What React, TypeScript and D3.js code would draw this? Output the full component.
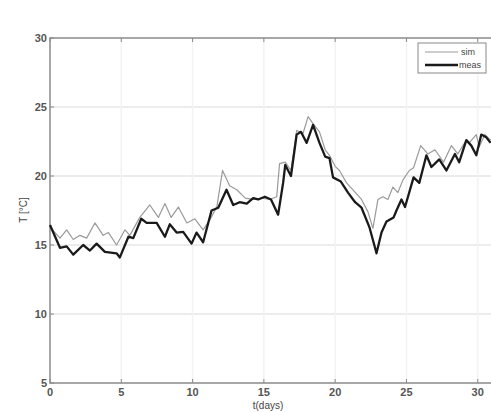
import React, { useEffect, useRef } from 'react';
import * as d3 from 'd3';

// simulated temperature (thin gray)
const simDays = [0, 0.7, 1.17, 1.63, 2.1, 2.57, 3.15, 3.73, 4.1, 4.67, 5.26, 5.6, 6.3, 7.0, 7.6, 8.06, 8.5, 9.0, 9.6, 10.16, 10.74, 11.2, 11.7, 12.1, 12.6, 13.1, 13.7, 14.25, 14.9, 15.4, 15.9, 16.1, 16.5, 16.9, 17.3, 17.75, 18.1, 18.45, 18.9, 19.3, 19.6, 20.0, 20.3, 20.8, 21.25, 21.85, 22.3, 22.65, 23.0, 23.35, 23.7, 24.05, 24.4, 24.75, 25.2, 25.5, 26.0, 26.5, 27.0, 27.6, 28.15, 28.6, 29.2, 29.4, 29.9, 30.1, 30.5, 30.9];
const simTemp = [16.3, 15.5, 16.1, 15.4, 15.7, 15.5, 16.6, 15.7, 15.9, 15.0, 16.1, 15.7, 17.0, 17.9, 17.0, 18.0, 17.0, 17.75, 16.6, 16.9, 16.1, 16.8, 17.75, 20.4, 19.3, 19.0, 18.4, 18.3, 18.4, 18.3, 18.5, 20.9, 21.0, 20.4, 23.3, 23.1, 24.3, 23.8, 23.2, 21.9, 21.5, 20.7, 20.4, 19.5, 19.0, 18.3, 17.4, 16.2, 18.3, 18.5, 18.3, 19.2, 18.8, 19.7, 20.4, 20.6, 22.2, 21.6, 21.9, 21.0, 22.2, 21.6, 22.6, 22.4, 23.0, 22.1, 23.0, 22.6];

// measured temperature (thick black)
const measDays = [0, 0.7, 1.17, 1.63, 2.33, 2.8, 3.27, 3.85, 4.67, 4.9, 5.5, 5.84, 6.4, 6.78, 7.48, 8.06, 8.4, 8.88, 9.34, 9.93, 10.28, 10.74, 11.33, 11.8, 12.38, 12.85, 13.3, 13.8, 14.25, 14.6, 15.07, 15.5, 16.0, 16.35, 16.5, 16.9, 17.3, 17.6, 18.0, 18.45, 18.9, 19.3, 19.6, 19.85, 20.4, 20.9, 21.4, 21.85, 22.4, 22.9, 23.25, 23.6, 24.1, 24.3, 24.65, 24.9, 25.5, 25.9, 26.4, 26.75, 27.3, 27.8, 28.4, 28.7, 29.2, 29.55, 29.9, 30.25, 30.6, 30.9];
const measTemp = [16.45, 14.8, 14.9, 14.3, 15.0, 14.6, 15.1, 14.5, 14.4, 14.1, 15.6, 15.5, 16.9, 16.6, 16.6, 15.6, 16.5, 15.9, 15.95, 15.1, 15.9, 15.2, 17.5, 17.7, 19.0, 17.9, 18.1, 18.0, 18.4, 18.3, 18.5, 18.3, 17.2, 19.5, 20.8, 20.0, 23.0, 23.2, 22.4, 23.7, 22.4, 21.4, 21.3, 19.9, 19.6, 18.8, 18.1, 17.7, 16.3, 14.4, 15.9, 16.7, 17.0, 17.5, 18.3, 17.75, 19.9, 19.5, 21.5, 20.65, 21.2, 20.4, 21.6, 21.0, 22.6, 22.2, 21.5, 23.0, 22.8, 22.4];

const xTicks = [0, 5, 10, 15, 20, 25, 30];
const yTicks = [5, 10, 15, 20, 25, 30];

const Chart = () => {
  const svgRef = useRef(null);

  useEffect(() => {
    const width = 491;
    const height = 412;
    const svg = d3.select(svgRef.current);
    svg.selectAll('*').remove();
    svg.attr('width', width).attr('height', height);

    const x = d3.scaleLinear().domain([0, 31]).range([50, 492]);
    const y = d3.scaleLinear().domain([5, 30]).range([383, 38]);
    const font = 'Liberation Sans, Arial, sans-serif';

    svg.append('rect').attr('width', width).attr('height', height).attr('fill', '#fff');

    // faint grid
    svg.selectAll('.hgrid').data(yTicks.slice(1, -1)).join('line')
      .attr('x1', x(0)).attr('x2', x(31))
      .attr('y1', (d) => y(d)).attr('y2', (d) => y(d))
      .attr('stroke', '#e6e6e6').attr('stroke-width', 1.5);
    svg.selectAll('.vgrid').data(xTicks.slice(1)).join('line')
      .attr('x1', (d) => x(d)).attr('x2', (d) => x(d))
      .attr('y1', y(30)).attr('y2', y(5))
      .attr('stroke', '#f3f3f3').attr('stroke-width', 1.5);

    // frame
    svg.append('rect')
      .attr('x', x(0)).attr('y', y(30))
      .attr('width', x(31) - x(0)).attr('height', y(5) - y(30))
      .attr('fill', 'none').attr('stroke', '#8a8a8a').attr('stroke-width', 1.5);

    // ticks inward
    xTicks.forEach((t) => {
      svg.append('line').attr('x1', x(t)).attr('x2', x(t)).attr('y1', y(5)).attr('y2', y(5) - 4)
        .attr('stroke', '#8a8a8a');
      svg.append('line').attr('x1', x(t)).attr('x2', x(t)).attr('y1', y(30)).attr('y2', y(30) + 4)
        .attr('stroke', '#8a8a8a');
      svg.append('text').attr('x', x(t)).attr('y', y(5) + 13)
        .attr('text-anchor', 'middle').attr('font-family', font).attr('font-size', 11)
        .attr('font-weight', 'bold').attr('fill', '#555').text(t);
    });
    yTicks.forEach((t) => {
      svg.append('line').attr('x1', x(0)).attr('x2', x(0) + 4).attr('y1', y(t)).attr('y2', y(t))
        .attr('stroke', '#8a8a8a');
      svg.append('text').attr('x', x(0) - 3).attr('y', y(t) + 4)
        .attr('text-anchor', 'end').attr('font-family', font).attr('font-size', 11)
        .attr('font-weight', 'bold').attr('fill', '#555').text(t);
    });

    // axis labels
    svg.append('text').attr('x', 268).attr('y', 409).attr('text-anchor', 'middle')
      .attr('font-family', font).attr('font-size', 10).attr('fill', '#444').text('t(days)');
    svg.append('text').attr('transform', 'translate(27,210) rotate(-90)').attr('text-anchor', 'middle')
      .attr('font-family', font).attr('font-size', 10).attr('fill', '#444').text('T [°C]');

    const line = d3.line<number>()
      .x((d) => x(d[0]))
      .y((d) => y(d[1]));

    const simPts = simDays.map((d, i) => [d, simTemp[i]]);
    const measPts = measDays.map((d, i) => [d, measTemp[i]]);

    svg.append('path').attr('d', line(simPts)).attr('fill', 'none')
      .attr('stroke', '#9a9a9a').attr('stroke-width', 1.2).attr('stroke-linejoin', 'round');
    svg.append('path').attr('d', line(measPts)).attr('fill', 'none')
      .attr('stroke', '#1a1a1a').attr('stroke-width', 2.3).attr('stroke-linejoin', 'round');

    // legend
    const lg = svg.append('g');
    lg.append('rect').attr('x', 418).attr('y', 43).attr('width', 68).attr('height', 30)
      .attr('fill', '#fff').attr('stroke', '#888').attr('stroke-width', 1);
    lg.append('line').attr('x1', 425).attr('x2', 458).attr('y1', 52).attr('y2', 52)
      .attr('stroke', '#9a9a9a').attr('stroke-width', 1.2);
    lg.append('line').attr('x1', 425).attr('x2', 458).attr('y1', 65).attr('y2', 65)
      .attr('stroke', '#1a1a1a').attr('stroke-width', 2.3);
    lg.append('text').attr('x', 461).attr('y', 55).attr('font-family', font).attr('font-size', 9)
      .attr('fill', '#444').text('sim');
    lg.append('text').attr('x', 459).attr('y', 68).attr('font-family', font).attr('font-size', 9)
      .attr('fill', '#444').text('meas');
  }, []);

  return <svg ref={svgRef} style={{ position: 'absolute', left: 0, top: 0 }} />;
};

export default function App() {
  return <Chart />;
}
